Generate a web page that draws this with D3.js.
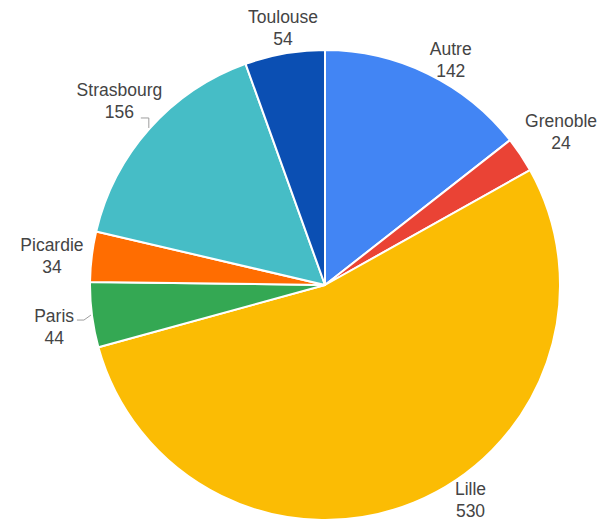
<!DOCTYPE html>
<html>
<head>
<meta charset="utf-8">
<script src="https://cdn.jsdelivr.net/npm/d3@7/dist/d3.min.js"></script>
<style>
  html, body { margin: 0; padding: 0; background: #fff; }
  svg { display: block; }
  text { font-family: Arial, "Liberation Sans", sans-serif; }
</style>
</head>
<body>
<svg id="chart" width="602" height="520"></svg>
<script>
// Sites and their counts, clockwise from 12 o'clock
const categories = ["Autre", "Grenoble", "Lille", "Paris", "Picardie", "Strasbourg", "Toulouse"];
const values = [142, 24, 530, 44, 34, 156, 54];
const colors = ["#4285f4", "#ea4335", "#fbbc04", "#34a853", "#ff6d01", "#46bdc6", "#0b4fb3"];

const W = 602, H = 520;
const cx = 325, cy = 285, R = 235;

const svg = d3.select("#chart");
const g = svg.append("g").attr("transform", `translate(${cx},${cy})`);

const data = categories.map((c, i) => ({ name: c, value: values[i], color: colors[i] }));

const pie = d3.pie().value(d => d.value).sort(null);
const arc = d3.arc().innerRadius(0).outerRadius(R);
const arcs = pie(data);

g.selectAll("path.slice")
  .data(arcs)
  .join("path")
  .attr("class", "slice")
  .attr("d", arc)
  .attr("fill", d => d.data.color)
  .attr("stroke", "#fff")
  .attr("stroke-width", 2)
  .attr("stroke-linejoin", "round");

// Label layout: text sits on a ring around the pie at each slice's mid angle,
// shifted a little so the blocks clear each other and the canvas edge.
const labelR = 262;
const nudge = {
  Autre: [11, 11], Grenoble: [18, -8], Lille: [46, -27], Paris: [-11, 9],
  Picardie: [-13, 3], Strasbourg: [-10, -10], Toulouse: [3, 1]
};
// Elbow leaders for labels that sit off their slice: offsets from the rim point
const leaders = {
  Strasbourg: [[0, -10], [-8, -10]],
  Paris: [[-7, 5], [-14, 5]]
};

const mid = d => (d.startAngle + d.endAngle) / 2;
const polar = (a, r) => [Math.sin(a) * r, -Math.cos(a) * r];

const lineGen = d3.line();
arcs.forEach(d => {
  const name = d.data.name;
  if (leaders[name]) {
    const [sx, sy] = polar(mid(d), R + 1);
    const pts = [[sx, sy]].concat(leaders[name].map(([dx, dy]) => [sx + dx, sy + dy]));
    g.append("path")
      .attr("d", lineGen(pts))
      .attr("fill", "none")
      .attr("stroke", "#9e9e9e")
      .attr("stroke-width", 1);
  }
});

const labels = g.selectAll("g.label")
  .data(arcs)
  .join("g")
  .attr("class", "label")
  .attr("transform", d => {
    const [x, y] = polar(mid(d), labelR);
    const [nx, ny] = nudge[d.data.name] || [0, 0];
    return `translate(${x + nx},${y + ny})`;
  });

labels.append("text")
  .attr("text-anchor", "middle")
  .attr("y", -5)
  .attr("font-size", 17.5)
  .attr("fill", "#444")
  .text(d => d.data.name);

labels.append("text")
  .attr("text-anchor", "middle")
  .attr("y", 17)
  .attr("font-size", 17.5)
  .attr("fill", "#444")
  .text(d => d3.format("d")(d.data.value));
</script>
</body>
</html>
